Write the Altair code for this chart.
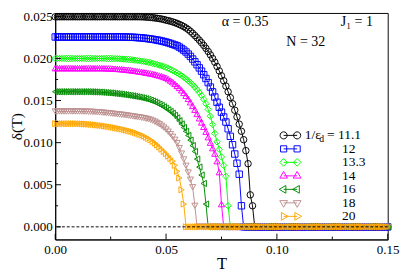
import altair as alt
import pandas as pd

# ---------------- data ----------------
T_STEP = 0.001
N_T = 151
T_VALUES = [round(i * T_STEP, 3) for i in range(N_T)]

SERIES = ["11.1", "12", "13.3", "14", "16", "18", "20"]
COLORS = ["#000000", "#0000ff", "#00ff00", "#ff00ff", "#008b00", "#bc8f8f", "#ffa500"]
SHAPES = ["circle", "square", "diamond", "triangle-up", "triangle-left", "triangle-down", "triangle-right"]
SIZES = [45, 40, 60, 60, 60, 60, 60]

# delta(T) in units of 1e-5 for T = 0, 0.001, 0.002, ... while nonzero; zero afterwards
DELTA_11_1 = [
    2495, 2495, 2495, 2495, 2495, 2495, 2495, 2495, 2495, 2495,
    2495, 2495, 2495, 2495, 2495, 2495, 2495, 2495, 2495, 2495,
    2495, 2495, 2495, 2495, 2495, 2495, 2495, 2495, 2495, 2495,
    2495, 2495, 2495, 2495, 2495, 2495, 2495, 2495, 2495, 2494,
    2493, 2491, 2489, 2487, 2484, 2481, 2477, 2473, 2468, 2462,
    2455, 2449, 2442, 2434, 2425, 2415, 2404, 2392, 2378, 2362,
    2344, 2322, 2298, 2272, 2245, 2217, 2187, 2155, 2120, 2083,
    2043, 2000, 1955, 1905, 1852, 1795, 1735, 1672, 1605, 1535,
    1462, 1385, 1305, 1220, 1135, 1035, 905, 750, 380, 250,
]
DELTA_12 = [
    2255, 2255, 2255, 2255, 2255, 2255, 2255, 2255, 2255, 2255,
    2255, 2255, 2255, 2255, 2255, 2255, 2255, 2255, 2255, 2255,
    2255, 2255, 2255, 2255, 2255, 2255, 2255, 2255, 2255, 2255,
    2255, 2254, 2254, 2253, 2252, 2251, 2250, 2248, 2246, 2244,
    2241, 2238, 2235, 2231, 2227, 2223, 2218, 2213, 2207, 2201,
    2194, 2186, 2178, 2169, 2160, 2150, 2135, 2118, 2099, 2077,
    2052, 2024, 1993, 1960, 1925, 1888, 1849, 1807, 1762, 1713,
    1660, 1603, 1542, 1480, 1420, 1362, 1305, 1245, 1165, 1075,
    975, 865, 755, 625, 250,
]
DELTA_13_3 = [
    2000, 2000, 2000, 2000, 2000, 2000, 2000, 2000, 2000, 2000,
    2000, 2000, 2000, 2000, 2000, 2000, 2000, 2000, 2000, 2000,
    2000, 2000, 2000, 2000, 2000, 2000, 1999, 1998, 1997, 1996,
    1994, 1992, 1990, 1988, 1985, 1982, 1979, 1976, 1972, 1968,
    1964, 1959, 1954, 1948, 1942, 1935, 1928, 1920, 1912, 1903,
    1893, 1882, 1870, 1857, 1843, 1828, 1812, 1795, 1777, 1757,
    1735, 1712, 1688, 1660, 1630, 1597, 1560, 1515, 1462, 1395,
    1315, 1215, 1110, 1010, 920, 830, 730, 600, 250,
]
DELTA_14 = [
    1885, 1885, 1885, 1885, 1885, 1885, 1885, 1885, 1885, 1885,
    1885, 1885, 1885, 1885, 1885, 1885, 1885, 1885, 1885, 1885,
    1885, 1885, 1884, 1883, 1882, 1881, 1879, 1878, 1876, 1874,
    1872, 1869, 1866, 1863, 1860, 1857, 1853, 1849, 1845, 1841,
    1837, 1832, 1827, 1822, 1817, 1811, 1804, 1797, 1789, 1780,
    1770, 1755, 1738, 1719, 1698, 1675, 1650, 1622, 1591, 1557,
    1520, 1480, 1437, 1391, 1341, 1290, 1240, 1188, 1130, 1065,
    1000, 935, 870, 780, 650, 270,
]
DELTA_16 = [
    1605, 1605, 1605, 1605, 1605, 1605, 1605, 1605, 1605, 1605,
    1605, 1605, 1605, 1605, 1605, 1605, 1604, 1603, 1602, 1601,
    1600, 1598, 1596, 1594, 1592, 1590, 1587, 1584, 1581, 1578,
    1575, 1571, 1567, 1563, 1559, 1555, 1550, 1545, 1540, 1534,
    1528, 1521, 1513, 1504, 1494, 1483, 1470, 1456, 1441, 1425,
    1408, 1390, 1370, 1348, 1325, 1295, 1260, 1222, 1180, 1135,
    1085, 1030, 965, 895, 805, 710, 615, 515, 270,
]
DELTA_18 = [
    1370, 1370, 1370, 1370, 1370, 1370, 1370, 1370, 1370, 1370,
    1370, 1370, 1370, 1369, 1368, 1367, 1366, 1365, 1363, 1361,
    1359, 1357, 1355, 1352, 1349, 1346, 1343, 1340, 1337, 1334,
    1331, 1328, 1324, 1320, 1316, 1312, 1308, 1304, 1300, 1296,
    1291, 1285, 1278, 1270, 1260, 1248, 1234, 1218, 1200, 1179,
    1156, 1130, 1101, 1069, 1034, 995, 935, 870, 800, 725,
    645, 560, 470, 250,
]
DELTA_20 = [
    1225, 1225, 1225, 1225, 1225, 1225, 1225, 1225, 1225, 1225,
    1225, 1224, 1223, 1222, 1220, 1218, 1216, 1214, 1211, 1208,
    1205, 1202, 1198, 1194, 1190, 1186, 1181, 1176, 1171, 1166,
    1160, 1154, 1148, 1141, 1134, 1127, 1119, 1110, 1100, 1089,
    1077, 1064, 1049, 1033, 1015, 995, 973, 948, 922, 895,
    868, 840, 811, 780, 730, 660, 580, 440, 270,
]
DELTAS = [DELTA_11_1, DELTA_12, DELTA_13_3, DELTA_14, DELTA_16, DELTA_18, DELTA_20]

X_TICKS = [0.0, 0.05, 0.10, 0.15]
X_MINOR = [0.025, 0.075, 0.125]
Y_TICKS = [0.0, 0.005, 0.010, 0.015, 0.020, 0.025]
Y_MINOR = [0.0025, 0.0075, 0.0125, 0.0175, 0.0225]

ANNOTATIONS = ["α = 0.35", "J\u2081 = 1", "N = 32"]
LEGEND_FIRST = ["1/ε", "d", "= 11.1"]

# ---------------- table ----------------
rows = []
for name, vals in zip(SERIES, DELTAS):
    full = vals + [0] * (N_T - len(vals))
    for t, v in zip(T_VALUES, full):
        rows.append({"series": name, "T": t, "delta": v * 1e-5})
df = pd.DataFrame(rows)

# ---------------- styling ----------------
FONT = "Liberation Serif"
W, H = 345, 235
x_scale = alt.Scale(domain=[0, 0.15], nice=False, zero=False)
y_scale = alt.Scale(domain=[-0.0015, 0.0254], nice=False, zero=False)

x_axis = alt.Axis(values=X_TICKS, format=".2f", ticks=False, grid=False, labelFlush=False,
                  labelOverlap=False, labelFont=FONT, labelFontSize=13.5, labelColor="black",
                  labelPadding=4, domainColor="black", domainWidth=1,
                  title="T", titleFont=FONT, titleFontSize=17, titleFontWeight="normal",
                  titleColor="black", titleY=17)
y_axis = alt.Axis(values=Y_TICKS, format=".3f", ticks=False, grid=False, labelFlush=False,
                  labelOverlap=False, labelFont=FONT, labelFontSize=13.5, labelColor="black",
                  labelPadding=3, domainColor="black", domainWidth=1,
                  title="δ(T)", titleFont=FONT, titleFontSize=16, titleFontWeight="normal",
                  titleColor="black", titleX=-32, titleY=H / 2, titleAngle=270)

color_nolegend = alt.Color("series:N", scale=alt.Scale(domain=SERIES, range=COLORS), legend=None)

lines = alt.Chart(df).mark_line(strokeWidth=1).encode(
    x=alt.X("T:Q", scale=x_scale, axis=x_axis),
    y=alt.Y("delta:Q", scale=y_scale, axis=y_axis),
    color=color_nolegend,
    detail="series:N",
)

points = alt.Chart(df).mark_point(filled=False, strokeWidth=1, opacity=1).encode(
    x=alt.X("T:Q", scale=x_scale),
    y=alt.Y("delta:Q", scale=y_scale),
    color=color_nolegend,
    shape=alt.Shape("series:N", scale=alt.Scale(domain=SERIES, range=SHAPES), legend=None),
    size=alt.Size("series:N", scale=alt.Scale(domain=SERIES, range=SIZES), legend=None),
)

zero_line = alt.Chart(pd.DataFrame({"y": [0.0]})).mark_rule(
    color="black", strokeDash=[3, 2], strokeWidth=1
).encode(y=alt.Y("y:Q", scale=y_scale))

# inward ticks
def xticks(vals, length):
    return alt.Chart(pd.DataFrame({"v": vals})).mark_rule(color="black", strokeWidth=1).encode(
        x=alt.X("v:Q", scale=x_scale), y=alt.value(H), y2=alt.value(H - length))

def yticks(vals, length):
    return alt.Chart(pd.DataFrame({"v": vals})).mark_rule(color="black", strokeWidth=1).encode(
        y=alt.Y("v:Q", scale=y_scale), x=alt.value(0), x2=alt.value(length))

# legend symbols: marker - line - marker
C = 1.75

def poly(pts):
    return "M " + " L ".join(f"{x:.3f},{y:.3f}" for x, y in pts) + " Z"

def shape_path(kind, cx):
    h = 0.577
    r = 1.0
    if kind == "circle":
        rr = 0.92
        return (f"M {cx + rr:.3f},0 A {rr},{rr} 0 1,1 {cx - rr:.3f},0 "
                f"A {rr},{rr} 0 1,1 {cx + rr:.3f},0 Z")
    if kind == "square":
        a = 0.8
        return poly([(cx - a, -a), (cx + a, -a), (cx + a, a), (cx - a, a)])
    if kind == "diamond":
        return poly([(cx - r, 0), (cx, -r), (cx + r, 0), (cx, r)])
    if kind == "triangle-up":
        return poly([(cx, -2 * h), (cx - r, h), (cx + r, h)])
    if kind == "triangle-down":
        return poly([(cx, 2 * h), (cx - r, -h), (cx + r, -h)])
    if kind == "triangle-left":
        return poly([(cx - 2 * h, 0), (cx + h, -r), (cx + h, r)])
    return poly([(cx + 2 * h, 0), (cx - h, -r), (cx - h, r)])

LEGEND_PATHS = [shape_path(k, -C) + " " + shape_path(k, C) + f" M {-C},0 L {C},0" for k in SHAPES]

NB = "\u00a0"
pad = "\u200b" + NB * 11
label_expr = f"datum.label == '11.1' ? '{LEGEND_FIRST[0]}' : '{pad}' + datum.label"

leg = alt.Legend(title=None, orient="none", legendX=237, legendY=120, padding=0,
                 labelFont=FONT, labelFontSize=14, labelColor="black", labelOffset=8,
                 symbolSize=64, symbolStrokeWidth=1, rowPadding=0, labelExpr=label_expr)

legend_layer = alt.Chart(pd.DataFrame({"series": SERIES})).transform_filter("false").mark_point(
    filled=False, strokeWidth=1, opacity=1
).encode(
    color=alt.Color("series:N", scale=alt.Scale(domain=SERIES, range=COLORS), legend=leg),
    shape=alt.Shape("series:N", scale=alt.Scale(domain=SERIES, range=LEGEND_PATHS), legend=leg),
)

def note(text, x, y, size=14.5, align="center"):
    return alt.Chart(pd.DataFrame({"t": [text]})).mark_text(
        font=FONT, fontSize=size, color="black", align=align, baseline="middle"
    ).encode(text="t:N", x=alt.value(x), y=alt.value(y))

notes = [note(ANNOTATIONS[0], 197, 9), note(ANNOTATIONS[1], 313, 9), note(ANNOTATIONS[2], 260, 30),
         note(LEGEND_FIRST[1], 274, 131, 10, "left"),
         note(LEGEND_FIRST[2], 282, 127, 14, "left")]

chart = alt.layer(
    lines, points, zero_line,
    xticks(X_TICKS, 6), xticks(X_MINOR, 3), yticks(Y_TICKS, 6), yticks(Y_MINOR, 3),
    legend_layer, *notes
).resolve_scale(color="independent", shape="independent", size="independent").properties(
    width=W, height=H,
    autosize=alt.AutoSizeParams(type="none"),
    padding={"left": 49, "top": 0, "right": 20, "bottom": 40},
).configure_view(stroke="black", strokeWidth=1)

chart.save("out.html", embed_options={"renderer": "svg", "actions": False})
